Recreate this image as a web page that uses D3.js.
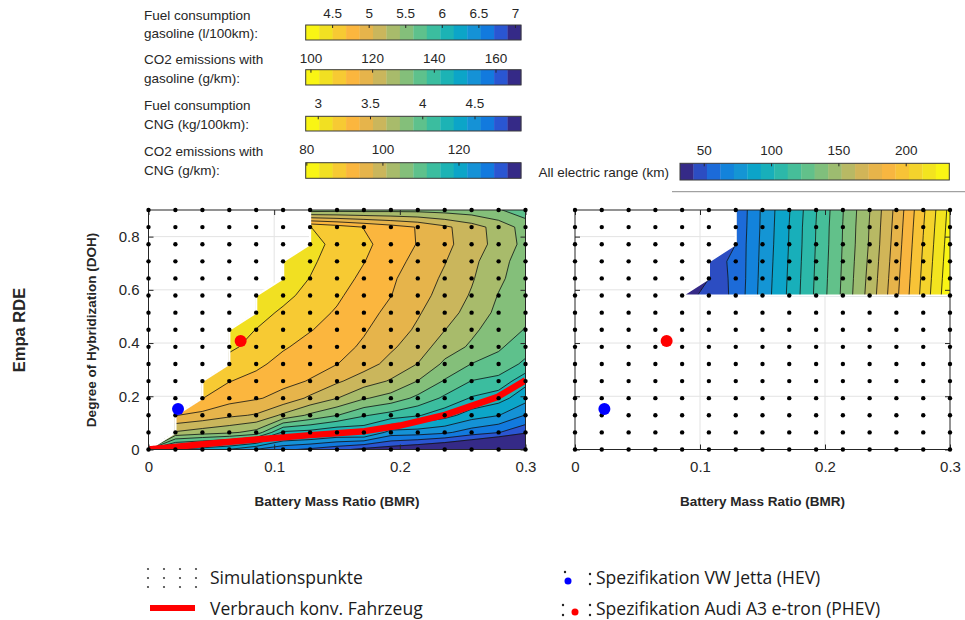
<!DOCTYPE html>
<html>
<head>
<meta charset="utf-8">
<script src="https://cdn.jsdelivr.net/npm/d3@7"></script>
<style>
  body { margin: 0; background: #fff; }
  text { font-family: "Liberation Sans", Arial, sans-serif; fill: #262626; }
  .legend text { font-family: "Open Sans", "Noto Sans", sans-serif; fill: #1a1a1a; }
</style>
</head>
<body>
<svg id="chart" width="965" height="620"></svg>
<script>
const N = null;

// Simulationsgitter
const bmrGrid = [0, 0.0214, 0.0429, 0.0643, 0.0857, 0.1071, 0.1286, 0.15, 0.1714, 0.1929, 0.2143, 0.2357, 0.2571, 0.2786, 0.3];
const dohGrid = [0, 0.0643, 0.1286, 0.1929, 0.2571, 0.3214, 0.3857, 0.45, 0.5143, 0.5786, 0.6429, 0.7071, 0.7714, 0.8357, 0.9];

// Verbrauch Benzin (l/100km), eine Zeile je DOH, null = kein gültiger Punkt
const fuelRows = [
  [6.009, 6.165, 6.248, 6.349, 6.533, 6.671, 6.745, 6.837, 6.947, 7.002, 7.076, 7.168, 7.260, 7.444, 7.628],
  [N, 5.254, 5.328, 5.383, 5.484, 6.009, 6.046, 6.138, 6.110, 6.414, 6.432, 6.487, 6.616, 6.699, 6.855],
  [N, 4.862, 4.923, 5.015, 5.070, 5.273, 5.457, 5.598, 5.770, 5.862, 5.954, 6.082, 6.248, 6.334, 6.533],
  [N, N, 4.680, 4.794, 4.850, 4.923, 5.089, 5.232, 5.402, 5.494, 5.650, 5.825, 5.990, 6.082, 6.266],
  [N, N, 4.610, 4.678, 4.739, 4.822, 4.877, 5.024, 5.144, 5.254, 5.424, 5.622, 5.794, 5.843, 6.101],
  [N, N, N, 4.574, 4.647, 4.739, 4.813, 4.864, 4.978, 5.107, 5.240, 5.457, 5.608, 5.678, 5.825],
  [N, N, N, 4.463, 4.564, 4.666, 4.739, 4.804, 4.896, 5.024, 5.144, 5.328, 5.448, 5.576, 5.714],
  [N, N, N, 4.408, 4.504, 4.592, 4.675, 4.748, 4.850, 4.960, 5.080, 5.232, 5.383, 5.512, 5.613],
  [N, N, N, N, 4.436, 4.528, 4.620, 4.702, 4.804, 4.914, 5.034, 5.162, 5.300, 5.466, 5.567],
  [N, N, N, N, 4.390, 4.454, 4.555, 4.656, 4.767, 4.864, 4.988, 5.116, 5.254, 5.429, 5.558],
  [N, N, N, N, N, 4.408, 4.504, 4.610, 4.721, 4.840, 4.960, 5.080, 5.218, 5.383, 5.530],
  [N, N, N, N, N, 4.390, 4.472, 4.574, 4.678, 4.794, 4.923, 5.043, 5.190, 5.356, 5.512],
  [N, N, N, N, N, N, 4.454, 4.537, 4.647, 4.758, 4.877, 5.006, 5.144, 5.300, 5.475],
  [N, N, N, N, N, N, 4.496, 4.592, 4.690, 4.785, 4.879, 5.015, 5.153, 5.310, 5.494],
  [N, N, N, N, N, N, 5.512, 5.494, 5.494, 5.484, 5.484, 5.503, 5.530, 5.586, 5.714]
];

// rein elektrische Reichweite (km)
const rangeRows = [
  [N, N, N, N, N, N, N, N, N, N, N, N, N, N, N],
  [N, N, N, N, N, N, N, N, N, N, N, N, N, N, N],
  [N, N, N, N, N, N, N, N, N, N, N, N, N, N, N],
  [N, N, N, N, N, N, N, N, N, N, N, N, N, N, N],
  [N, N, N, N, N, N, N, N, N, N, N, N, N, N, N],
  [N, N, N, N, N, N, N, N, N, N, N, N, N, N, N],
  [N, N, N, N, N, N, N, N, N, N, N, N, N, N, N],
  [N, N, N, N, N, N, N, N, N, N, N, N, N, N, N],
  [N, N, N, N, N, N, N, N, N, N, N, N, N, N, N],
  [N, N, N, N, 38, 45, 54.5, 76, 94, 114, 134, 156, 180, 205.5, 230],
  [N, N, N, N, N, 47, 54, 75.5, 93.5, 113.5, 133.5, 155, 179, 204.5, 229],
  [N, N, N, N, N, 48, 54, 75, 93, 113, 133, 154, 178, 203.5, 228],
  [N, N, N, N, N, N, 54, 74.5, 92.5, 112.5, 132.5, 153, 177, 202.5, 227],
  [N, N, N, N, N, N, 53.5, 74, 92.2, 112.2, 132.2, 152.5, 176, 201.5, 226],
  [N, N, N, N, N, N, 53, 73.8, 91.5, 111.5, 131.6, 151.8, 175, 200.4, 225]
];

// Klassengrenzen (Farbskala)
const fuelEdges = [4.132, 4.316, 4.5, 4.684, 4.868, 5.052, 5.236, 5.42, 5.604, 5.788, 5.972, 6.156, 6.34, 6.524, 6.708, 6.892, 7.076];
const rangeEdges = [32, 42, 52, 62, 72, 82, 92, 102, 112, 122, 132, 142, 152, 162, 172, 182, 192, 202, 212, 222, 232];

// Verbrauch konv. Fahrzeug (BMR, DOH)
const convLine = [[0, 0], [0.043, 0.02], [0.086, 0.038], [0.129, 0.054], [0.172, 0.069], [0.2, 0.09], [0.236, 0.13], [0.278, 0.198], [0.3, 0.26]];
const jettaSpec = [0.0235, 0.152];
const audiSpec = [0.0733, 0.408];

// Farbskalen oben
const fuelTicks = [4.5, 5, 5.5, 6, 6.5, 7];
const co2GasDomain = [98.3, 168.1];
const co2GasTicks = [100, 120, 140, 160];
const cngDomain = [2.88, 4.94];
const cngTicks = [3, 3.5, 4, 4.5];
const co2CngDomain = [79.7, 136.3];
const co2CngTicks = [80, 100, 120];
const rangeTicks = [50, 100, 150, 200];

const xTicks = [0, 0.1, 0.2, 0.3];
const yTicks = [0, 0.2, 0.4, 0.6, 0.8];

// parula, 16 Stufen (dunkel -> gelb)
const palette = ["#352a87", "#2a56d2", "#127ade", "#1592d6", "#0ca5c8", "#1cb3b5", "#3bbd9f", "#5ec18c",
                 "#84bf7a", "#a8bb6b", "#cab65c", "#e6b44b", "#fbb63e", "#f7ca33", "#f1e022", "#f9f514"];
const parula = d3.piecewise(d3.interpolateRgb, palette);
const nFuel = fuelEdges.length - 1;
const nRange = rangeEdges.length - 1;
const fuelColor = i => palette[palette.length - 1 - i];
const rangeColor = i => parula(i / (nRange - 1));

const svg = d3.select("#chart");
const yS = d3.scaleLinear().domain([0, 0.9]).range([449.5, 210]);
const xLeft = d3.scaleLinear().domain([0, 0.3]).range([148.5, 525.5]);
const xRight = d3.scaleLinear().domain([0, 0.3]).range([575, 950]);

function styleAxis(sel, size) {
  sel.select(".domain").remove();
  sel.selectAll("line").attr("stroke", "#262626");
  sel.selectAll("text").attr("font-size", size).attr("fill", "#262626")
    .attr("font-family", "Liberation Sans, Arial, sans-serif");
}

function drawPanel(id, xS, rows, edges, colorOf) {
  const g = svg.append("g").attr("id", id);
  const [x0, x1] = xS.range();
  const yTop = yS(0.9), yBot = yS(0);
  g.append("clipPath").attr("id", id + "Clip")
    .append("rect").attr("x", x0).attr("y", yTop).attr("width", x1 - x0).attr("height", yBot - yTop);

  // Gitterlinien
  g.append("g").selectAll("line").data(xTicks.slice(1, -1)).join("line")
    .attr("x1", d => xS(d)).attr("x2", d => xS(d)).attr("y1", yTop).attr("y2", yBot)
    .attr("stroke", "#e3e3e3");
  g.append("g").selectAll("line").data(yTicks.slice(1)).join("line")
    .attr("x1", x0).attr("x2", x1).attr("y1", d => yS(d)).attr("y2", d => yS(d))
    .attr("stroke", "#e3e3e3");

  // Konturflächen
  const nx = rows[0].length, ny = rows.length;
  const grid = rows.flat().map(v => v == null ? -1e6 : v);
  const gx = d3.scaleLinear().domain([0.5, nx - 0.5]).range([bmrGrid[0], bmrGrid[nx - 1]]);
  const gy = d3.scaleLinear().domain([0.5, ny - 0.5]).range([dohGrid[0], dohGrid[ny - 1]]);
  const path = d3.geoPath(d3.geoTransform({
    point(x, y) { this.stream.point(xS(gx(x)), yS(gy(y))); }
  }));
  const bands = d3.contours().size([nx, ny]).thresholds(edges.slice(0, -1))(grid);

  const body = g.append("g").attr("clip-path", `url(#${id}Clip)`);
  body.selectAll("path.band").data(bands).join("path")
    .attr("class", "band").attr("d", path)
    .attr("fill", (d, i) => colorOf(i)).attr("stroke", (d, i) => colorOf(i)).attr("stroke-width", 0.6);
  body.selectAll("path.iso").data(bands.slice(1)).join("path")
    .attr("class", "iso").attr("d", path)
    .attr("fill", "none").attr("stroke", "#111").attr("stroke-width", 0.8);
  // Rand zum ungültigen Bereich ohne Linie
  body.append("path").datum(bands[0]).attr("d", path)
    .attr("fill", "none").attr("stroke", "#fff").attr("stroke-width", 2.2);

  return { g, body, x0, x1, yTop, yBot };
}

function drawFrame(p, xS, showY) {
  const { g, x0, x1, yTop, yBot } = p;
  g.append("rect").attr("x", x0).attr("y", yTop).attr("width", x1 - x0).attr("height", yBot - yTop)
    .attr("fill", "none").attr("stroke", "#262626").attr("stroke-width", 1);
  g.append("g").attr("transform", `translate(0,${yBot})`)
    .call(d3.axisBottom(xS).tickValues(xTicks).tickSize(-5).tickPadding(12).tickFormat(d3.format("")))
    .call(s => styleAxis(s, "15px"));
  g.append("g").attr("transform", `translate(0,${yTop})`)
    .call(d3.axisTop(xS).tickValues(xTicks).tickSize(-5).tickFormat(""))
    .call(s => styleAxis(s, "15px"));
  g.append("g").attr("transform", `translate(${x0},0)`)
    .call(d3.axisLeft(yS).tickValues(yTicks).tickSize(-5).tickPadding(9).tickFormat(showY ? d3.format("") : ""))
    .call(s => styleAxis(s, "15px"));
  g.append("g").attr("transform", `translate(${x1},0)`)
    .call(d3.axisRight(yS).tickValues(yTicks).tickSize(-5).tickFormat(""))
    .call(s => styleAxis(s, "15px"));

  // Simulationspunkte
  const pts = d3.cross(bmrGrid, dohGrid);
  g.append("g").selectAll("circle").data(pts).join("circle")
    .attr("cx", d => xS(d[0])).attr("cy", d => yS(d[1])).attr("r", 2.2).attr("fill", "#000");

  g.append("circle").attr("cx", xS(jettaSpec[0])).attr("cy", yS(jettaSpec[1])).attr("r", 6).attr("fill", "#0000ff");
  g.append("circle").attr("cx", xS(audiSpec[0])).attr("cy", yS(audiSpec[1])).attr("r", 6).attr("fill", "#ff0000");

  g.append("text").attr("x", (x0 + x1) / 2).attr("y", 506).attr("text-anchor", "middle")
    .attr("font-size", "13.5px").attr("font-weight", "bold").attr("fill", "#000").text("Battery Mass Ratio (BMR)");
}

const left = drawPanel("fuel", xLeft, fuelRows, fuelEdges, fuelColor);
left.body.append("path").datum(convLine)
  .attr("d", d3.line().x(d => xLeft(d[0])).y(d => yS(d[1])))
  .attr("fill", "none").attr("stroke", "#ff0000").attr("stroke-width", 6.5).attr("stroke-linejoin", "round");
drawFrame(left, xLeft, true);

const right = drawPanel("range", xRight, rangeRows, rangeEdges, rangeColor);
drawFrame(right, xRight, false);

svg.append("text").attr("transform", "translate(96,330) rotate(-90)").attr("text-anchor", "middle")
  .attr("font-size", "13.5px").attr("font-weight", "bold").attr("fill", "#000").text("Degree of Hybridization (DOH)");
svg.append("text").attr("transform", "translate(25,330) rotate(-90)").attr("text-anchor", "middle")
  .attr("font-size", "16.5px").attr("font-weight", "bold").attr("fill", "#000").text("Empa RDE");

// Farbskalen
function colorbar(x0, x1, y0, y1, domain, ticks, n, colorOf, labelY) {
  const s = d3.scaleLinear().domain(domain).range([x0, x1]);
  const seg = d3.scaleLinear().domain([0, n]).range([x0, x1]);
  const g = svg.append("g");
  g.selectAll("rect.seg").data(d3.range(n)).join("rect").attr("class", "seg")
    .attr("x", i => seg(i)).attr("width", i => seg(i + 1) - seg(i) + 0.3)
    .attr("y", y0).attr("height", y1 - y0).attr("fill", i => colorOf(i));
  g.append("rect").attr("x", x0).attr("y", y0).attr("width", x1 - x0).attr("height", y1 - y0)
    .attr("fill", "none").attr("stroke", "#3a3a3a").attr("stroke-width", 1);
  g.selectAll("line").data(ticks).join("line")
    .attr("x1", d => s(d)).attr("x2", d => s(d)).attr("y1", y0).attr("y2", y0 + 3)
    .attr("stroke", "#262626");
  g.selectAll("text").data(ticks).join("text")
    .attr("x", d => s(d)).attr("y", labelY).attr("text-anchor", "middle")
    .attr("font-size", "13.5px").text(d => d);
}

const barX0 = 305.7, barX1 = 521;
colorbar(barX0, barX1, 25, 40, [fuelEdges[0], fuelEdges[nFuel]], fuelTicks, nFuel, fuelColor, 18);
colorbar(barX0, barX1, 69.7, 85, co2GasDomain, co2GasTicks, nFuel, fuelColor, 62.5);
colorbar(barX0, barX1, 116.3, 131, cngDomain, cngTicks, nFuel, fuelColor, 108);
colorbar(barX0, barX1, 162.7, 178.3, co2CngDomain, co2CngTicks, nFuel, fuelColor, 153.5);
colorbar(680, 949.3, 163.3, 180, [rangeEdges[0], rangeEdges[nRange]], rangeTicks, nRange, rangeColor, 155);

const barLabels = [
  ["Fuel consumption", 19.5], ["gasoline (l/100km):", 38],
  ["CO2 emissions with", 64], ["gasoline (g/km):", 83],
  ["Fuel consumption", 109.5], ["CNG (kg/100km):", 129],
  ["CO2 emissions with", 156], ["CNG (g/km):", 174.5]
];
svg.append("g").selectAll("text").data(barLabels).join("text")
  .attr("x", 144).attr("y", d => d[1]).attr("font-size", "13.5px").text(d => d[0]);
svg.append("text").attr("x", 669).attr("y", 176.5).attr("text-anchor", "end")
  .attr("font-size", "13.5px").text("All electric range (km)");
svg.append("line").attr("x1", 672).attr("x2", 965).attr("y1", 191.7).attr("y2", 191.7)
  .attr("stroke", "#8c8c8c").attr("stroke-width", 1);

// Legende
const lg = svg.append("g").attr("class", "legend");
lg.append("g").selectAll("circle").data(d3.cross([148, 164, 180, 196], [569, 578, 587])).join("circle")
  .attr("cx", d => d[0]).attr("cy", d => d[1]).attr("r", 1.1).attr("fill", "#444");
lg.append("rect").attr("x", 150).attr("y", 605).attr("width", 45).attr("height", 6).attr("fill", "#ff0000");
lg.append("g").selectAll("circle").data([[565, 572], [590, 574], [590, 584], [563, 605], [563, 615], [590, 605], [590, 615]]).join("circle")
  .attr("cx", d => d[0]).attr("cy", d => d[1]).attr("r", 1.2).attr("fill", "#222");
lg.append("circle").attr("cx", 568).attr("cy", 581).attr("r", 3.5).attr("fill", "#0000ff");
lg.append("circle").attr("cx", 575).attr("cy", 612).attr("r", 3.5).attr("fill", "#ff0000");
const legendItems = [
  ["Simulationspunkte", 210, 584], ["Verbrauch konv. Fahrzeug", 210, 615],
  ["Spezifikation VW Jetta (HEV)", 596, 584], ["Spezifikation Audi A3 e-tron (PHEV)", 596, 615]
];
lg.selectAll("text").data(legendItems).join("text")
  .attr("x", d => d[1]).attr("y", d => d[2]).attr("font-size", "17.5px").text(d => d[0]);
</script>
</body>
</html>
